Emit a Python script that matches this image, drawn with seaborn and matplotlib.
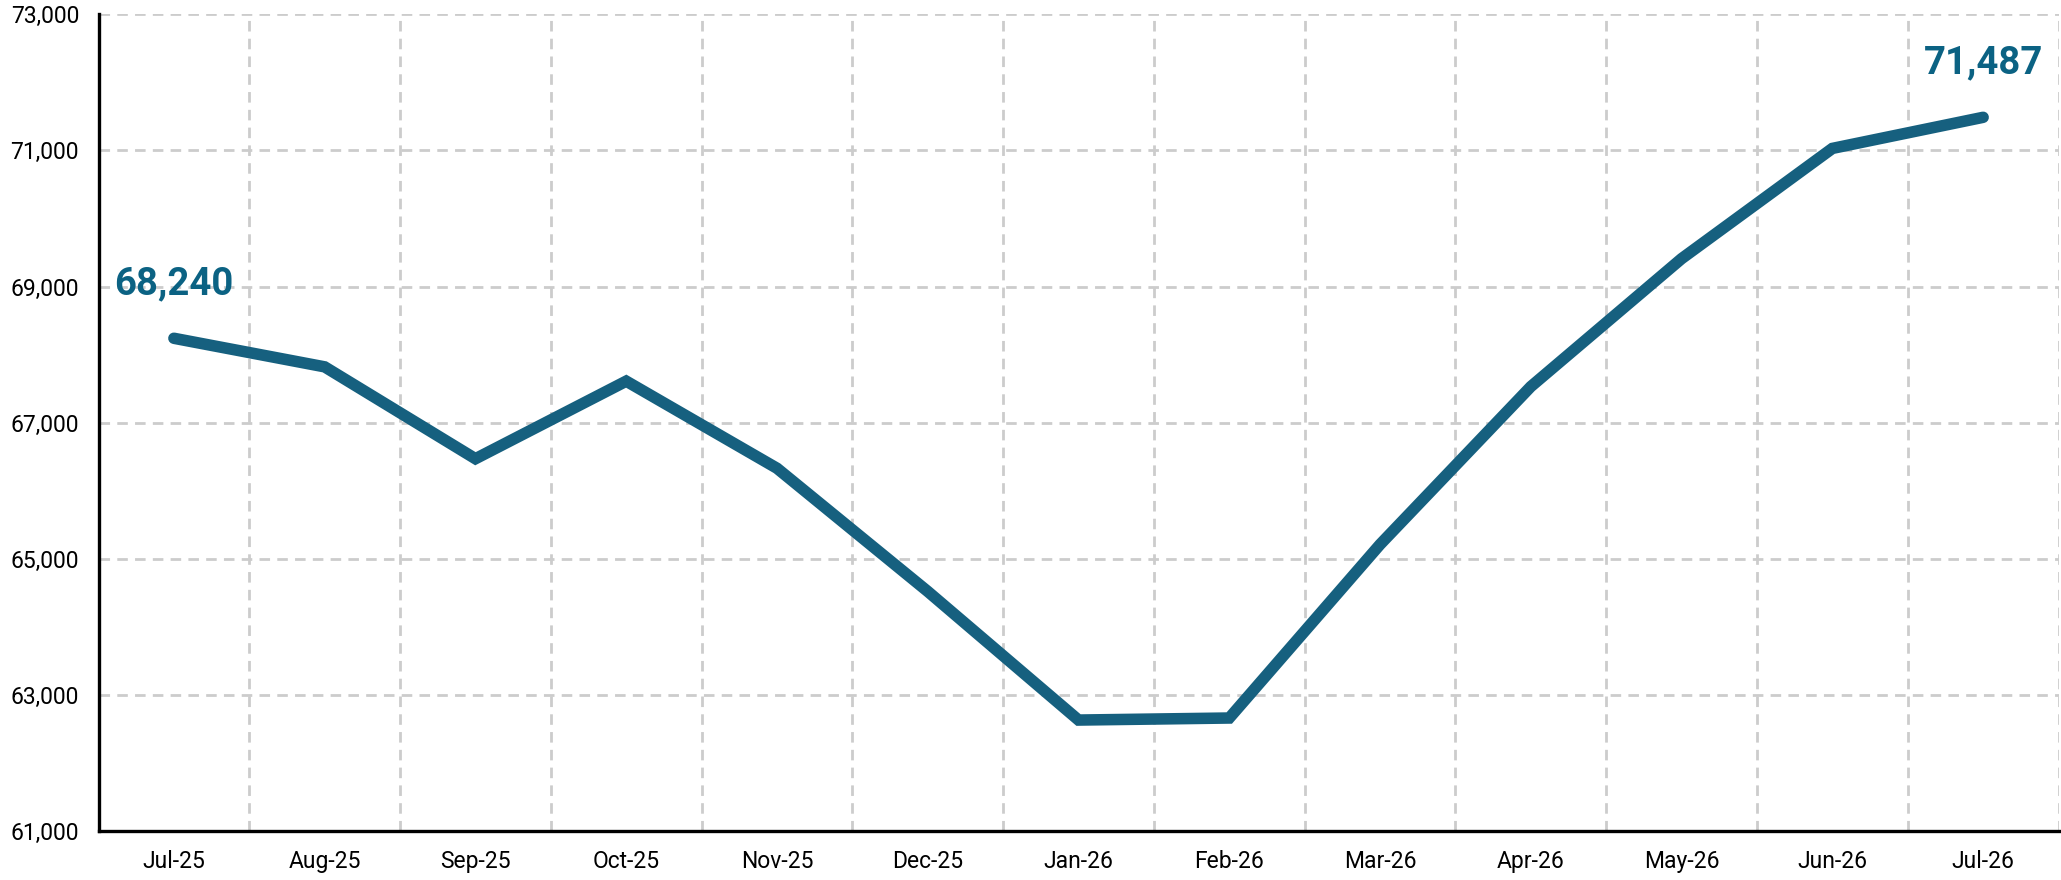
import matplotlib
matplotlib.use("Agg")
import matplotlib.pyplot as plt
import seaborn as sns
import numpy as np
import pandas as pd
from matplotlib.ticker import FuncFormatter, FixedLocator

months = ["Jul-25", "Aug-25", "Sep-25", "Oct-25", "Nov-25", "Dec-25", "Jan-26",
          "Feb-26", "Mar-26", "Apr-26", "May-26", "Jun-26", "Jul-26"]
values = [68240, 67820, 66470, 67610, 66330, 64520, 62630,
          62660, 65210, 67530, 69410, 71030, 71487]
y_ticks = [61000, 63000, 65000, 67000, 69000, 71000, 73000]

sns.set_theme(style="white")
plt.rcParams['font.family'] = ['Roboto', 'DejaVu Sans']

line_color = "#16607f"
label_color = "#0b6283"

df = pd.DataFrame({"idx": np.arange(len(months)), "month": months, "value": values})

fig = plt.figure(figsize=(20.61, 8.8), dpi=100)
ax = fig.add_axes([0.0478, 0.0557, 0.951, 0.928])

sns.lineplot(data=df, x="idx", y="value", ax=ax, color=line_color, linewidth=8.3,
             sort=False, solid_capstyle="round", solid_joinstyle="miter")

ax.set_xlim(-0.5, len(months) - 0.5)
ax.set_ylim(y_ticks[0], y_ticks[-1])
ax.yaxis.set_major_locator(FixedLocator(y_ticks))
ax.yaxis.set_major_formatter(FuncFormatter(lambda v, p: f"{int(v):,}"))
ax.set_xticks(df["idx"])
ax.set_xticklabels(months)
ax.xaxis.set_minor_locator(FixedLocator(np.arange(len(months)) + 0.5))

grid_kw = dict(color="#cccccc", linestyle=(0, (3.8, 2.6)), linewidth=2.0)
ax.grid(False)
ax.grid(axis="y", which="major", **grid_kw)
ax.grid(axis="x", which="minor", **grid_kw)
ax.set_axisbelow(True)

for side in ["top", "right"]:
    ax.spines[side].set_visible(False)
for side in ["left", "bottom"]:
    ax.spines[side].set_color("black")
    ax.spines[side].set_linewidth(2.4)

ax.tick_params(axis="both", which="both", length=0)
ax.tick_params(axis="y", labelsize=16.5, pad=14, colors="black")
ax.tick_params(axis="x", labelsize=16.5, pad=14, colors="black")
ax.set_xlabel("")
ax.set_ylabel("")

for i in [0, len(months) - 1]:
    ax.annotate(f"{values[i]:,}", xy=(i, values[i]), xytext=(0, 39),
                textcoords="offset points", ha="center", va="center",
                fontsize=27.5, fontweight="bold", color=label_color,
                annotation_clip=False)

fig.savefig("out.png", dpi=100)
